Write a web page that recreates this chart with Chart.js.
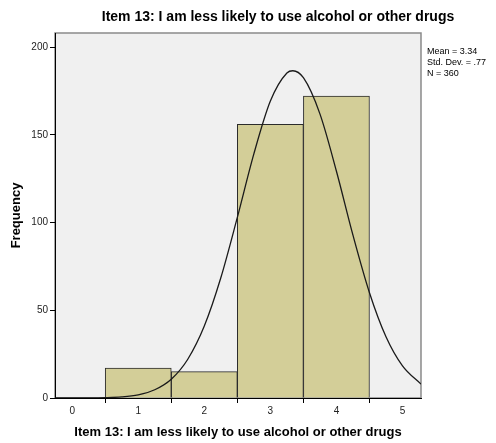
<!DOCTYPE html>
<html>
<head>
<meta charset="utf-8">
<script src="https://cdn.jsdelivr.net/npm/chart.js@4/dist/chart.umd.min.js"></script>
<style>
  html, body { margin: 0; padding: 0; background: #fff; }
  #wrap { width: 496px; height: 443px; }
</style>
</head>
<body>
<div id="wrap"><canvas id="hist"></canvas></div>
<script>
// histogram bins (response value) and counts
const binCenters = [1, 2, 3, 4];
const counts = [17, 15, 156, 172];

// normal curve
const curveX = [-0.26, 0, 0.5, 0.75, 1, 1.25, 1.5, 1.75, 2, 2.25, 2.5, 2.75, 3, 3.25, 3.34, 3.5, 3.75, 4, 4.25, 4.5, 4.75, 5, 5.28];
const curveY = [0, 0, 0.2, 0.6, 1.8, 4.7, 10.7, 22.1, 41.0, 68.5, 102.9, 139.1, 169.2, 185.2, 186.5, 182.5, 161.9, 129.2, 92.8, 60.0, 34.9, 18.3, 7.9];

const xTicks = [0, 1, 2, 3, 4, 5];
const yTicks = [0, 50, 100, 150, 200];
const statLines = ['Mean = 3.34', 'Std. Dev. = .77', 'N = 360'];
const chartTitle = 'Item 13: I am less likely to use alcohol or other drugs';

const FONT = '"Liberation Sans", Arial, sans-serif';

const framePlugin = {
    id: 'frame',
    beforeDraw(chart) {
        const { ctx, chartArea: a } = chart;
        ctx.save();
        ctx.fillStyle = '#f0f0f0';
        ctx.fillRect(a.left, a.top, a.right - a.left, a.bottom - a.top);
        ctx.strokeStyle = '#8a8a8a';
        ctx.lineWidth = 1.5;
        ctx.strokeRect(a.left, a.top, a.right - a.left, a.bottom - a.top);
        ctx.restore();
    },
    afterDraw(chart) {
        const { ctx, chartArea: a } = chart;
        ctx.save();
        ctx.fillStyle = '#000';
        ctx.font = 'bold 14px ' + FONT;
        ctx.textAlign = 'center';
        ctx.textBaseline = 'middle';
        ctx.fillText(chartTitle, 278, 17);
        ctx.font = '9px ' + FONT;
        ctx.textAlign = 'left';
        statLines.forEach((t, i) => ctx.fillText(t, a.right + 6, 52 + i * 11));
        ctx.restore();
    }
};

const ctx = document.getElementById('hist').getContext('2d');
new Chart(ctx, {
    type: 'bar',
    data: {
        datasets: [{
            type: 'line',
            data: curveX.map((x, i) => ({ x: x, y: curveY[i] })),
            borderColor: '#1a1a1a',
            borderWidth: 1.3,
            pointRadius: 0,
            fill: false,
            cubicInterpolationMode: 'monotone',
            order: 0
        }, {
            type: 'bar',
            data: binCenters.map((x, i) => ({ x: x, y: counts[i] })),
            backgroundColor: '#d3ce98',
            borderColor: '#2b2b2b',
            borderWidth: 1,
            barPercentage: 1,
            categoryPercentage: 1,
            order: 1
        }]
    },
    options: {
        responsive: true,
        maintainAspectRatio: false,
        animation: false,
        layout: { padding: { top: 33, right: 75, left: 0, bottom: 0 } },
        plugins: { legend: { display: false }, tooltip: { enabled: false } },
        scales: {
            x: {
                type: 'linear',
                min: -0.26,
                max: 5.28,
                offset: false,
                afterFit: s => { s.height = 45; },
                afterBuildTicks: s => { s.ticks = xTicks.map(v => ({ value: v })); },
                ticks: { font: { family: FONT, size: 10 }, color: '#222', padding: 2 },
                grid: { drawOnChartArea: false, drawTicks: true, tickLength: 5, color: '#000' },
                border: { display: true, color: '#000', width: 1 },
                title: {
                    display: true,
                    text: chartTitle,
                    font: { family: FONT, size: 13, weight: 'bold' },
                    color: '#000',
                    padding: { top: 0, bottom: 3 }
                }
            },
            y: {
                min: 0,
                max: 208,
                afterFit: s => { s.width = 55; },
                afterBuildTicks: s => { s.ticks = yTicks.map(v => ({ value: v })); },
                ticks: { font: { family: FONT, size: 10 }, color: '#222', padding: 2 },
                grid: { drawOnChartArea: false, drawTicks: true, tickLength: 5, color: '#000' },
                border: { display: true, color: '#000', width: 1 },
                title: {
                    display: true,
                    text: 'Frequency',
                    font: { family: FONT, size: 13, weight: 'bold' },
                    color: '#000',
                    padding: { top: 9, bottom: 0 }
                }
            }
        }
    },
    plugins: [framePlugin]
});
</script>
</body>
</html>
